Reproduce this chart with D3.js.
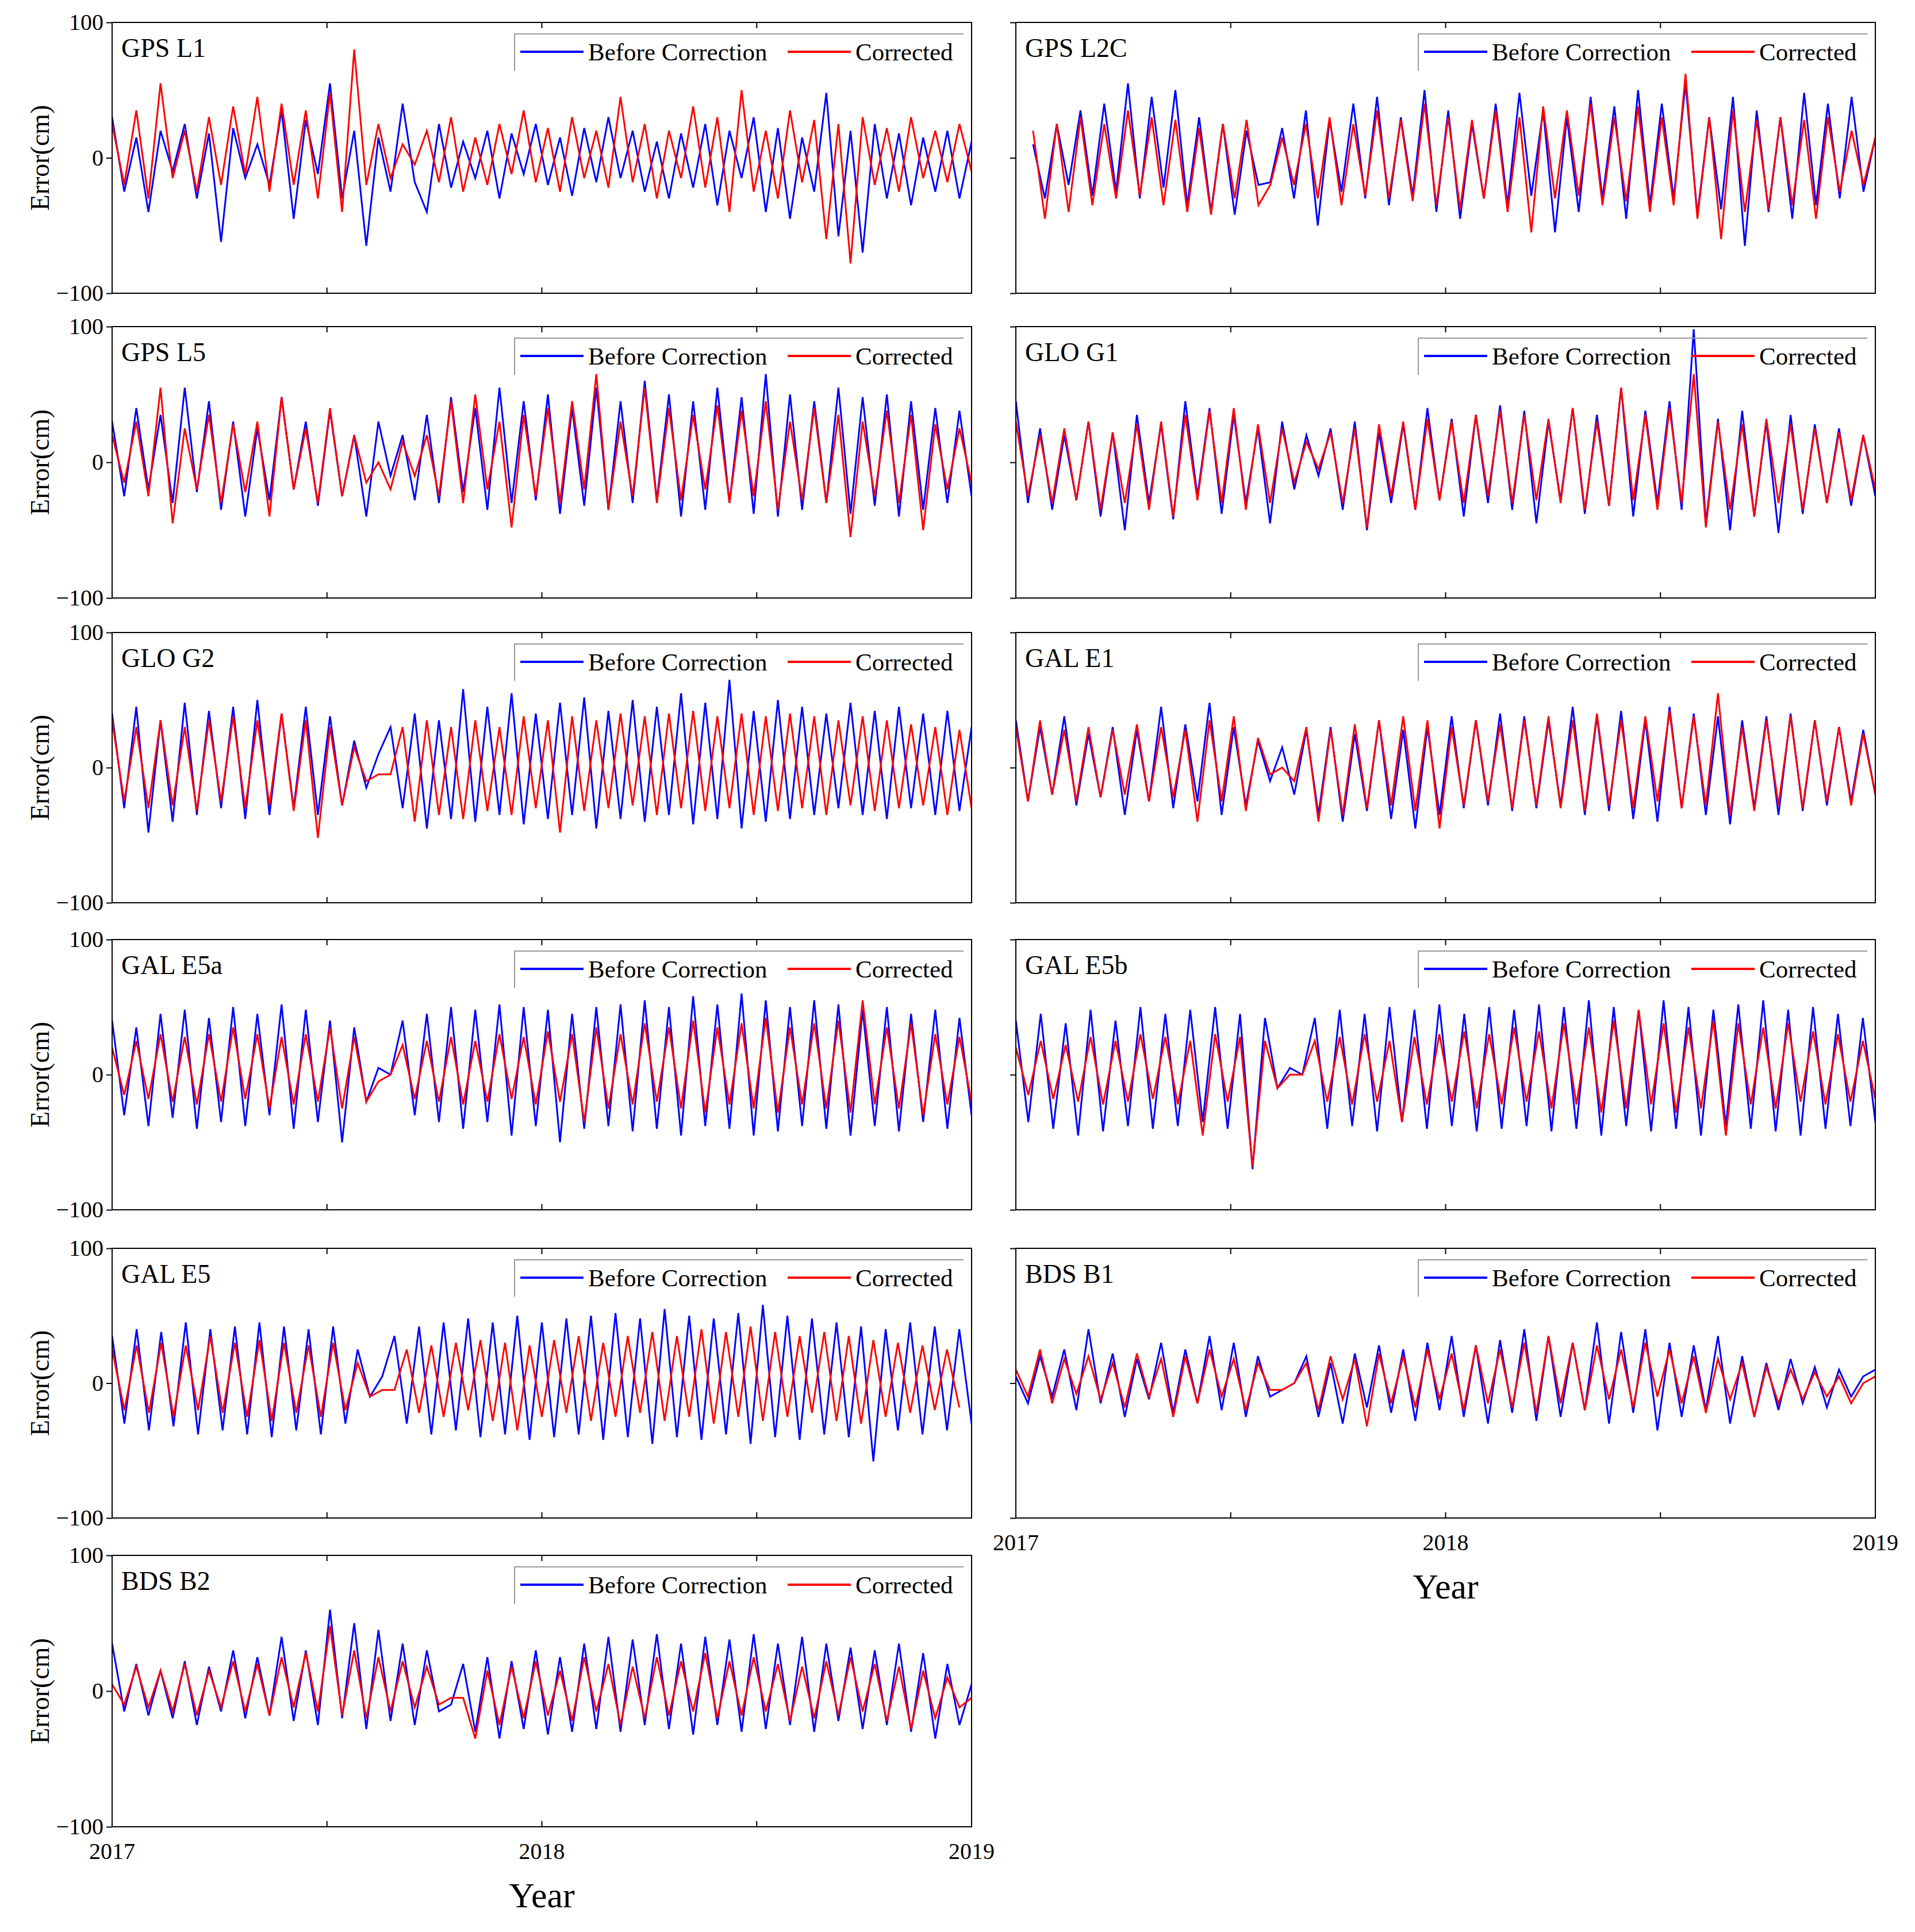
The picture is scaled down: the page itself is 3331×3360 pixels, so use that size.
<!DOCTYPE html>
<html><head><meta charset="utf-8">
<script src="https://cdn.jsdelivr.net/npm/d3@7"></script>
<style>body{margin:0;background:#fff}svg{font-family:"Liberation Serif","Times New Roman",serif}</style>
</head><body><svg id="c" width="3331" height="3360"></svg>
<script>
const panelNames=["GPS L1","GPS L2C","GPS L5","GLO G1","GLO G2","GAL E1","GAL E5a","GAL E5b","GAL E5","BDS B1","BDS B2"];
const seriesNames=["Before Correction","Corrected"];
const yTicks=[-100,0,100];
const xTicks=[2017,2018,2019];
const xMinorTicks=[2017.5,2018.5];
const startYear=[2017,2017.04,2017,2017,2017,2017,2017,2017,2017,2017,2017];

const before=[
[30,-25,15,-40,20,-10,25,-30,18,-62,22,-15,10,-20,35,-45,28,-12,55,-30,20,-65,15,-25,40,-18,-40,25,-22,12,-15,20,-30,18,-12,25,-20,15,-28,22,-18,30,-15,20,-25,12,-30,18,-22,25,-35,20,-15,30,-40,22,-45,15,-25,48,-58,20,-70,25,-30,18,-35,15,-25,20,-30,12],
[10,-30,25,-20,35,-28,40,-25,55,-30,45,-22,50,-35,30,-40,25,-42,20,-20,-18,22,-30,35,-50,28,-25,40,-30,45,-35,30,-28,50,-40,35,-45,25,-30,40,-35,48,-28,35,-55,30,-40,45,-30,38,-45,50,-35,40,-30,55,-42,30,-38,45,-65,35,-40,30,-45,48,-35,40,-30,45,-25,15],
[30,-25,40,-20,35,-30,55,-22,45,-35,30,-40,25,-28,48,-20,30,-32,38,-25,20,-40,30,-10,20,-28,35,-30,48,-22,40,-35,55,-30,45,-28,50,-38,40,-32,55,-35,45,-30,60,-28,50,-40,45,-35,55,-30,48,-38,65,-40,50,-35,45,-30,55,-38,48,-32,50,-40,45,-35,40,-30,38,-25],
[45,-30,25,-35,20,-28,30,-40,22,-50,35,-30,28,-42,45,-25,40,-38,35,-30,25,-45,30,-20,20,-10,25,-35,30,-50,22,-30,28,-35,40,-28,32,-40,35,-30,42,-35,38,-45,30,-28,40,-38,35,-32,55,-40,38,-30,45,-35,98,-45,32,-50,38,-40,30,-52,35,-38,28,-30,25,-32,20,-25],
[40,-30,45,-48,35,-40,48,-35,42,-30,45,-38,50,-35,40,-30,45,-35,38,-28,20,-15,10,30,-30,40,-45,35,-38,58,-40,45,-35,55,-42,40,-38,48,-35,52,-45,42,-38,50,-40,45,-35,55,-42,48,-38,65,-45,42,-40,50,-38,45,-35,40,-30,48,-35,42,-38,45,-30,40,-35,42,-32,30],
[35,-25,30,-20,38,-28,25,-22,30,-35,28,-25,45,-30,32,-25,48,-35,30,-28,20,-10,15,-20,28,-35,30,-40,25,-32,35,-38,28,-45,30,-35,38,-30,35,-28,40,-32,38,-30,35,-28,45,-35,38,-32,42,-38,35,-40,45,-30,40,-35,38,-42,35,-30,38,-35,40,-32,35,-28,30,-25,28,-20],
[40,-30,35,-38,45,-32,48,-40,42,-35,50,-38,45,-30,52,-40,48,-35,40,-50,35,-20,5,0,40,-30,45,-35,50,-40,48,-35,52,-45,50,-38,48,-50,45,-40,50,-38,52,-42,55,-40,50,-45,58,-38,52,-40,60,-45,55,-42,50,-38,55,-40,52,-45,48,-38,50,-42,45,-35,48,-40,42,-30],
[40,-35,45,-40,38,-45,48,-42,40,-38,50,-40,45,-38,48,-35,50,-40,45,-70,42,-10,5,0,42,-40,48,-38,45,-42,50,-35,48,-40,52,-38,45,-42,50,-40,48,-38,52,-42,50,-40,55,-45,50,-38,48,-42,55,-40,50,-45,48,-38,52,-40,55,-42,48,-45,50,-40,45,-38,42,-35],
[35,-30,40,-35,38,-32,45,-38,40,-35,42,-38,45,-40,42,-35,40,-38,42,-30,25,-10,5,35,-30,42,-38,45,-35,48,-40,45,-38,50,-42,45,-40,48,-38,50,-42,52,-40,48,-45,55,-40,50,-42,48,-38,52,-45,58,-40,50,-42,48,-38,45,-40,42,-58,40,-35,45,-38,42,-35,40,-30],
[5,-15,20,-10,25,-20,40,-15,22,-25,18,-12,30,-22,25,-15,35,-20,30,-25,20,-10,-5,0,20,-25,15,-30,22,-18,28,-22,25,-28,30,-20,35,-25,28,-30,32,-22,40,-28,35,-25,30,-20,45,-30,38,-22,40,-35,30,-25,28,-20,35,-30,20,-25,15,-20,18,-15,12,-18,10,-10,5,10],
[35,-15,20,-18,15,-20,22,-25,18,-15,30,-20,25,-18,40,-22,30,-25,60,-20,50,-28,45,-22,35,-25,30,-15,-10,20,-30,25,-35,22,-28,30,-32,25,-30,35,-28,40,-30,38,-25,42,-28,35,-32,40,-25,38,-30,42,-28,35,-25,40,-30,35,-22,32,-28,30,-25,35,-30,28,-35,20,-25,5]
];
const corrected=[
[25,-20,35,-30,55,-15,20,-25,30,-20,38,-12,45,-25,40,-20,35,-30,48,-40,80,-20,25,-15,10,-5,20,-18,30,-25,15,-20,25,-12,35,-18,22,-25,30,-15,20,-22,45,-18,25,-30,20,-15,38,-22,30,-40,50,-25,20,-30,35,-18,28,-60,25,-78,30,-20,22,-25,30,-15,20,-18,25,-10],
[20,-45,25,-40,30,-35,25,-30,35,-28,30,-35,28,-40,22,-42,25,-30,28,-35,-20,15,-20,25,-30,30,-35,25,-28,35,-30,28,-32,40,-35,30,-38,28,-30,35,-40,30,-55,38,-30,35,-28,40,-35,30,-32,38,-40,30,-35,62,-45,30,-60,35,-40,28,-38,30,-35,28,-45,30,-25,20,-20,15],
[20,-15,30,-25,55,-45,25,-20,35,-30,28,-22,30,-40,48,-20,25,-30,40,-25,20,-15,0,-20,15,-10,20,-25,45,-30,50,-20,30,-48,35,-25,40,-30,45,-20,65,-35,30,-25,55,-30,40,-28,35,-20,42,-30,38,-25,45,-35,30,-28,40,-30,35,-55,30,-25,38,-30,35,-50,28,-20,25,-15],
[30,-25,20,-30,25,-28,30,-35,22,-30,28,-35,30,-40,35,-28,38,-30,40,-35,28,-30,25,-15,15,-5,22,-30,25,-48,28,-25,30,-35,32,-28,30,-30,35,-25,38,-30,35,-28,32,-30,40,-35,30,-32,55,-28,35,-35,40,-30,65,-48,30,-35,28,-40,32,-30,28,-35,25,-30,22,-28,20,-20],
[35,-25,30,-30,35,-28,30,-32,35,-25,38,-30,35,-28,40,-32,35,-52,30,-28,15,-10,-5,-5,30,-40,35,-35,30,-38,35,-32,30,-35,38,-30,35,-48,38,-32,35,-30,40,-28,38,-35,40,-30,42,-32,38,-30,40,-35,38,-32,40,-30,38,-35,35,-28,38,-32,35,-30,32,-28,30,-35,28,-30],
[30,-25,35,-20,28,-25,30,-22,28,-20,32,-25,30,-22,28,-40,35,-25,38,-32,22,-5,0,-10,30,-40,28,-35,32,-30,35,-28,38,-32,35,-45,30,-28,35,-25,32,-30,35,-28,38,-30,35,-32,40,-28,35,-30,38,-25,42,-30,38,-28,55,-35,30,-32,35,-28,38,-30,35,-25,30,-28,25,-20],
[20,-15,25,-18,30,-20,28,-22,30,-20,35,-18,30,-25,28,-22,30,-20,35,-25,28,-20,-5,0,22,-18,25,-20,28,-22,25,-20,30,-18,28,-22,32,-20,30,-35,35,-25,30,-22,38,-20,35,-25,40,-28,35,-22,38,-25,42,-28,35,-22,38,-25,40,-28,55,-22,35,-25,38,-30,30,-22,28,-20],
[20,-15,25,-18,22,-20,28,-22,25,-20,30,-18,28,-22,25,-45,30,-20,28,-68,25,-10,0,0,25,-20,28,-22,30,-20,25,-35,28,-22,30,-20,32,-25,30,-22,35,-20,32,-25,38,-22,35,-28,40,-25,48,-22,38,-28,35,-25,40,-45,38,-22,35,-25,38,-20,32,-22,30,-20,25,-18],
[25,-20,28,-22,30,-25,28,-20,35,-22,30,-25,32,-28,30,-22,28,-25,30,-20,15,-10,-5,-5,25,-22,28,-25,30,-20,32,-28,30,-35,28,-25,32,-22,35,-28,30,-25,35,-22,38,-28,35,-25,40,-30,38,-25,42,-28,38,-25,35,-22,38,-28,35,-30,32,-25,30,-22,28,-20,25,-18],
[10,-10,25,-15,18,-8,20,-12,15,-18,22,-10,18,-25,20,-15,25,-10,18,-20,15,-5,-5,0,15,-20,20,-12,18,-32,22,-15,20,-18,25,-12,22,-20,28,-15,25,-18,30,-22,35,-15,30,-20,28,-12,25,-18,30,-10,25,-15,20,-22,18,-12,15,-25,12,-15,10,-12,8,-10,5,-15,0,5],
[5,-10,18,-12,15,-15,20,-18,15,-12,22,-15,20,-18,25,-12,28,-15,48,-18,30,-20,25,-15,22,-12,18,-10,-5,-5,-35,15,-25,18,-20,22,-18,15,-22,25,-15,20,-25,18,-20,25,-18,22,-15,28,-20,22,-18,25,-15,20,-22,18,-20,22,-18,25,-15,20,-22,18,-28,15,-20,10,-12,-5]
];

const colX=[[195,1690],[1767,3262]];
const rowY=[[39,510],[568,1040],[1100,1570],[1634,2104],[2171,2640],[2705,3177]];
const svg=d3.select("#c");
const blue="#0000ff", red="#ff0000";

panelNames.forEach((name,i)=>{
  const col=i%2,row=Math.floor(i/2);
  const [x0,x1]=colX[col],[y0,y1]=rowY[row];
  const x=d3.scaleLinear().domain([2017,2019]).range([x0,x1]);
  const y=d3.scaleLinear().domain([-100,100]).range([y1,y0]);
  const g=svg.append("g");
  const n=before[i].length;
  const t=d3.scaleLinear().domain([0,n-1]).range([startYear[i],2019]);
  const line=d3.line().x((d,k)=>x(t(k))).y(d=>y(d));
  g.append("clipPath").attr("id","cp"+i).append("rect").attr("x",x0).attr("y",y0).attr("width",x1-x0).attr("height",y1-y0);
  const lg=g.append("g").attr("clip-path","url(#cp"+i+")");
  lg.append("path").datum(before[i]).attr("d",line).attr("fill","none").attr("stroke",blue).attr("stroke-width",3);
  lg.append("path").datum(corrected[i]).attr("d",line).attr("fill","none").attr("stroke",red).attr("stroke-width",3);
  g.append("rect").attr("x",x0).attr("y",y0).attr("width",x1-x0).attr("height",y1-y0).attr("fill","none").attr("stroke","#000").attr("stroke-width",2);
  const ya=g.append("g").attr("transform",`translate(${x0},0)`).call(d3.axisLeft(y).tickValues(yTicks).tickSize(10).tickFormat(d=>col===0?(d<0?"\u2212"+(-d):d):""));
  ya.select(".domain").remove();
  ya.selectAll("text").attr("font-size",40).attr("font-family","Liberation Serif").attr("fill","#000").attr("dx",-2);
  ya.selectAll("line").attr("stroke-width",2);
  const allX=xTicks.concat(xMinorTicks);
  g.selectAll(".xt").data(allX).enter().append("line").attr("x1",d=>x(d)).attr("x2",d=>x(d)).attr("y1",y1).attr("y2",y1-10).attr("stroke","#000").attr("stroke-width",2);
  g.selectAll(".xt2").data(allX).enter().append("line").attr("x1",d=>x(d)).attr("x2",d=>x(d)).attr("y1",y0).attr("y2",y0+10).attr("stroke","#000").attr("stroke-width",2);
  if(i>=9){
    g.selectAll(".xl").data(xTicks).enter().append("text").attr("x",d=>x(d)).attr("y",y1+56).attr("text-anchor","middle").attr("font-size",40).text(d=>d);
    g.append("text").attr("x",(x0+x1)/2).attr("y",y1+140).attr("text-anchor","middle").attr("font-size",62).text("Year");
  }
  if(col===0) g.append("text").attr("transform",`translate(${x0-110},${(y0+y1)/2}) rotate(-90)`).attr("text-anchor","middle").attr("font-size",46).text("Error(cm)");
  g.append("text").attr("x",x0+16).attr("y",y0+60).attr("font-size",46).text(name);
  const lx=x1-795, ly=y0+20;
  g.append("path").attr("d",`M${lx},${ly+64}V${ly}H${x1-14}`).attr("fill","none").attr("stroke","#999").attr("stroke-width",2);
  const items=[[lx+10,blue,seriesNames[0]],[lx+475,red,seriesNames[1]]];
  items.forEach(([px,c,txt])=>{
    g.append("line").attr("x1",px).attr("x2",px+110).attr("y1",ly+31).attr("y2",ly+31).attr("stroke",c).attr("stroke-width",4);
    g.append("text").attr("x",px+118).attr("y",ly+46).attr("font-size",43).text(txt);
  });
});
</script></body></html>
